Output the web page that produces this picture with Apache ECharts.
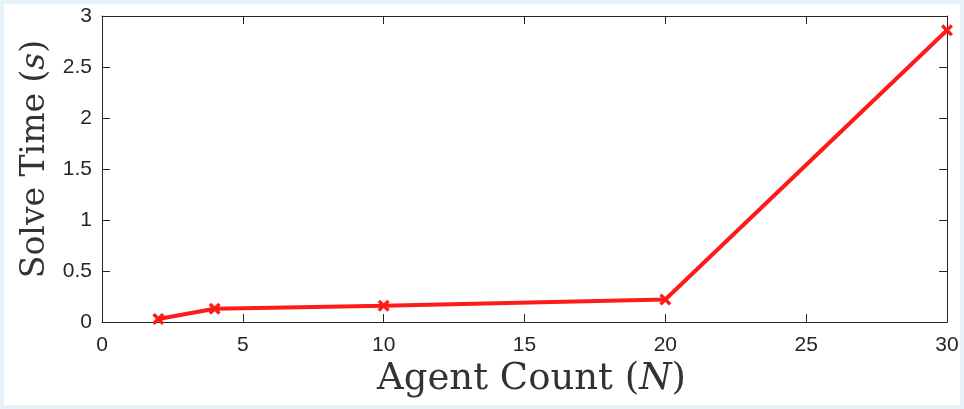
<!DOCTYPE html>
<html>
<head>
<meta charset="utf-8">
<script src="https://cdn.jsdelivr.net/npm/echarts@6/dist/echarts.min.js"></script>
<style>
  html, body { margin: 0; padding: 0; background: #fff; }
  #chart {
    width: 964px;
    height: 409px;
    background: #fff;
    box-shadow: inset 0 0 0 4px #e6f2f8;
  }
</style>
</head>
<body>
<div id="chart"></div>
<script>
// agent count vs solve time
const agentCount = [2, 4, 10, 20, 30]
const solveTime = [0.03, 0.13, 0.16, 0.22, 2.86]
const xTicks = { min: 0, max: 30, interval: 5 }
const yTicks = { min: 0, max: 3, interval: 0.5 }

const axisColor = '#262626'
const lineColor = '#ff1a1a'
const crossPath = 'path://M2,0 L5,3 L8,0 L10,2 L7,5 L10,8 L8,10 L5,7 L2,10 L0,8 L3,5 L0,2 Z'

const chart = echarts.init(document.getElementById('chart'))

const baseAxis = {
  axisLine: { show: true, onZero: false, lineStyle: { color: axisColor, width: 1 } },
  axisTick: { show: true, inside: true, length: 8, lineStyle: { color: axisColor } },
  splitLine: { show: false }
}

// axis titles, latex-ish serif with italic variable
const serifName = (size, padding) => ({
  fontFamily: 'DejaVu Serif',
  fontSize: size,
  color: '#333',
  padding: padding,
  rich: {
    a: { fontFamily: 'DejaVu Serif', fontSize: size, color: '#333' },
    i: { fontFamily: 'DejaVu Serif', fontSize: size, fontStyle: 'italic', color: '#333' }
  }
})

chart.setOption({
  animation: false,
  grid: { left: 102, right: 17, top: 16, bottom: 87 },
  xAxis: [
    {
      ...baseAxis,
      type: 'value',
      position: 'bottom',
      ...xTicks,
      name: '{a|Agent Count (}{i|N}{a|)}',
      nameLocation: 'middle',
      nameGap: 36,
      nameTextStyle: serifName(37, [0, 0, 0, 14]),
      axisLabel: { color: axisColor, fontSize: 21, fontFamily: 'Liberation Sans', margin: 13 }
    },
    {
      ...baseAxis,
      type: 'value',
      position: 'top',
      ...xTicks,
      axisLabel: { show: false }
    }
  ],
  yAxis: [
    {
      ...baseAxis,
      type: 'value',
      position: 'left',
      ...yTicks,
      name: '{a|Solve Time (}{i|s}{a|)}',
      nameLocation: 'middle',
      nameGap: 50,
      nameTextStyle: serifName(33, [0, 0, 0, 20]),
      axisLabel: { color: axisColor, fontSize: 21, fontFamily: 'Liberation Sans', margin: 10 }
    },
    {
      ...baseAxis,
      type: 'value',
      position: 'right',
      ...yTicks,
      axisLabel: { show: false }
    }
  ],
  series: [
    {
      type: 'line',
      data: agentCount.map((x, i) => [x, solveTime[i]]),
      symbol: crossPath,
      symbolSize: 12,
      lineStyle: { color: lineColor, width: 4 },
      itemStyle: { color: lineColor }
    }
  ]
})
</script>
</body>
</html>
